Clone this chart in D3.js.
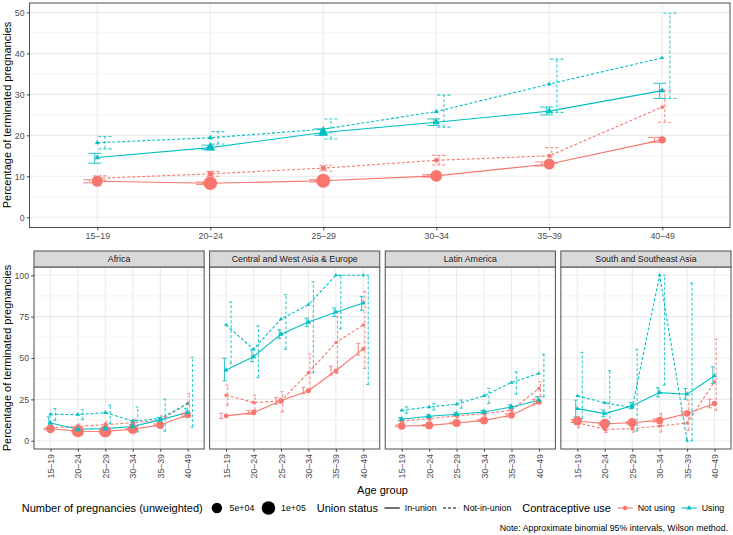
<!DOCTYPE html>
<html>
<head>
<meta charset="utf-8">
<script src="https://cdn.jsdelivr.net/npm/d3@7"></script>
<style>
  body { margin: 0; background: #fff; }
  text { font-family: "Liberation Sans", Arial, Helvetica, sans-serif; }
</style>
</head>
<body>
<svg id="chart" width="733" height="535"></svg>
<script>
// ---- data (panel 0 = all regions, then one row per region) ----
var ageGroups = ["15–19", "20–24", "25–29", "30–34", "35–39", "40–49"];
var regions = ["Africa", "Central and West Asia & Europe", "Latin America", "South and Southeast Asia"];
var useLevels = ["Not using", "Using"];
var unionLevels = ["In-union", "Not-in-union"];
var sizeBreaks = [50000, 100000];
var sizeLabels = ["5e+04", "1e+05"];

// Not using, in-union
var pctNotIn = [
  [8.8, 8.3, 8.9, 10.1, 13.0, 18.9],
  [7.2, 5.7, 5.6, 7.0, 9.5, 15.5],
  [15.0, 17.0, 24.1, 30.2, 42.3, 55.5],
  [8.9, 9.3, 10.7, 12.3, 15.4, 23.5],
  [11.9, 10.3, 10.9, 12.3, 16.4, 22.5]];
var loNotIn = [
  [8.4, 8.0, 8.6, 9.8, 12.5, 18.3],
  [6.8, 5.4, 5.3, 6.6, 8.9, 14.4],
  [13.4, 15.9, 22.1, 28.5, 39.7, 51.8],
  [8.4, 8.9, 10.2, 11.7, 14.5, 21.8],
  [11.0, 9.6, 10.2, 11.4, 15.0, 19.9]];
var hiNotIn = [
  [9.2, 8.6, 9.2, 10.4, 13.5, 19.5],
  [7.6, 6.0, 5.9, 7.4, 10.1, 16.6],
  [16.6, 18.2, 26.1, 32.2, 45.0, 58.9],
  [9.4, 9.7, 11.2, 12.9, 16.3, 25.2],
  [12.8, 11.0, 11.6, 13.2, 17.8, 25.1]];
var nNotIn = [
  [59000, 101000, 109000, 71000, 59000, 19000],
  [32000, 76000, 76000, 45000, 22000, 13000],
  [4000, 7000, 8000, 5000, 3000, 2000],
  [20000, 27000, 25000, 22000, 14000, 9000],
  [36000, 45000, 36000, 19000, 13000, 7000]];

// Not using, not-in-union
var pctNotOut = [
  [9.5, 10.6, 12.0, 13.9, 15.0, 26.9],
  [7.8, 8.7, 9.7, 10.9, 12.3, 22.5],
  [27.5, 23.1, 24.1, 41.1, 59.3, 70.0],
  [11.9, 13.4, 15.0, 16.4, 18.4, 31.6],
  [10.9, 6.9, 7.3, 8.9, 10.7, 35.6]];
var loNotOut = [
  [9.0, 10.0, 11.3, 12.8, 13.2, 23.2],
  [6.5, 7.5, 8.3, 9.2, 10.0, 17.0],
  [21.5, 18.4, 17.4, 31.0, 40.7, 43.7],
  [10.9, 12.4, 13.8, 14.9, 16.2, 26.5],
  [8.0, 5.0, 5.2, 5.3, 6.3, 18.4]];
var hiNotOut = [
  [10.1, 11.2, 12.7, 15.1, 17.0, 31.0],
  [9.4, 10.1, 11.3, 12.9, 15.0, 28.5],
  [33.6, 27.5, 29.6, 52.4, 75.1, 90.3],
  [13.0, 14.5, 16.3, 18.0, 20.8, 35.6],
  [14.5, 9.4, 10.1, 16.4, 24.5, 61.3]];
var nNotOut = [
  [5000, 7000, 6000, 4000, 2000, 1000],
  [1500, 2500, 2500, 1500, 1000, 500],
  [500, 800, 800, 500, 400, 300],
  [1000, 1500, 1500, 1000, 800, 400],
  [800, 1000, 1000, 600, 400, 200]];

// Using, in-union
var pctUseIn = [
  [14.6, 17.0, 20.7, 23.2, 25.9, 30.9],
  [10.7, 6.9, 7.3, 8.6, 12.6, 17.1],
  [42.7, 50.8, 64.4, 71.7, 77.7, 83.2],
  [13.0, 14.8, 16.0, 17.4, 20.4, 24.5],
  [19.4, 16.4, 21.1, 29.1, 28.1, 39.3]];
var loUseIn = [
  [13.2, 16.5, 20.0, 22.4, 25.0, 29.0],
  [8.3, 5.9, 6.4, 7.6, 11.2, 14.8],
  [36.2, 47.8, 61.9, 69.0, 75.1, 78.7],
  [12.0, 13.9, 15.1, 16.4, 19.2, 22.5],
  [14.4, 14.5, 19.3, 26.5, 25.1, 34.6]];
var hiUseIn = [
  [15.6, 17.6, 21.6, 24.0, 26.9, 32.7],
  [14.4, 8.1, 8.4, 9.8, 14.1, 19.6],
  [49.8, 54.9, 67.0, 74.1, 80.2, 87.2],
  [14.0, 15.7, 16.9, 18.4, 21.7, 26.7],
  [24.5, 18.6, 23.1, 32.0, 31.6, 44.7]];
var nUseIn = [
  [4000, 24000, 26000, 10000, 8000, 4000],
  [3000, 6000, 7000, 5000, 4000, 2000],
  [2000, 3000, 3000, 3000, 2000, 1500],
  [3000, 4000, 5000, 5000, 4000, 2000],
  [1500, 2000, 2500, 2000, 1500, 1000]];

// Using, not-in-union
var pctUseOut = [
  [18.2, 19.4, 21.5, 25.8, 32.5, 38.9],
  [16.0, 15.8, 17.0, 11.9, 13.4, 22.5],
  [70.0, 55.3, 73.5, 82.2, 100, 100],
  [18.4, 20.4, 22.1, 27.1, 35.2, 40.7],
  [27.1, 22.9, 20.0, 100, 0, null]];
var loUseOut = [
  [16.7, 17.9, 19.1, 22.0, 25.6, 29.0],
  [12.3, 12.8, 10.3, 5.3, 5.8, 8.3],
  [46.8, 38.3, 55.3, 41.1, 67.6, 34.0],
  [16.4, 18.6, 19.7, 22.5, 28.1, 26.5],
  [13.4, 10.3, 5.9, 33.6, 0, null]];
var hiUseOut = [
  [19.7, 20.9, 24.0, 29.8, 38.6, 49.8],
  [19.4, 18.8, 21.5, 20.4, 25.1, 50.4],
  [83.8, 69.4, 88.3, 96.0, 100, 100],
  [20.5, 22.3, 24.6, 31.6, 41.7, 52.2],
  [53.4, 42.3, 55.3, 100, 95.3, null]];
var nUseOut = [
  [2000, 3000, 3000, 2000, 1000, 600],
  [800, 1000, 1000, 600, 400, 200],
  [300, 400, 400, 300, 200, 200],
  [600, 800, 800, 600, 400, 300],
  [300, 400, 400, 200, 200, 200]];

// ---- setup ----
var svg = d3.select("#chart");
var colors = ["#F8766D", "#00BFC4"];
var dashes = [null, "3,2"];
var sizeScale = d3.scaleSqrt().domain([0, 120000]).range([1.3, 7.3]);

// dodge order: red in, teal in, red not-in, teal not-in
var series = [
  {pct: pctNotIn, lo: loNotIn, hi: hiNotIn, n: nNotIn, use: 0, union: 0, slot: 0},
  {pct: pctNotOut, lo: loNotOut, hi: hiNotOut, n: nNotOut, use: 0, union: 1, slot: 2},
  {pct: pctUseIn, lo: loUseIn, hi: hiUseIn, n: nUseIn, use: 1, union: 0, slot: 1},
  {pct: pctUseOut, lo: loUseOut, hi: hiUseOut, n: nUseOut, use: 1, union: 1, slot: 3}
];

function drawPoint(g, use, cx, cy, r, fill) {
  if (use == 0) {
    g.append("circle").attr("cx", cx).attr("cy", cy).attr("r", r).attr("fill", fill);
  } else {
    g.append("path")
      .attr("d", d3.symbol().type(d3.symbolTriangle).size(Math.PI * r * r * 0.8)())
      .attr("transform", "translate(" + cx + "," + cy + ")")
      .attr("fill", fill);
  }
}

function styleAxis(ag) {
  ag.select(".domain").remove();
  ag.selectAll(".tick line").attr("stroke", "#333").attr("stroke-width", 0.9);
  ag.selectAll(".tick text").attr("fill", "#4D4D4D").style("font-size", "8.8px")
    .style("font-family", '"Liberation Sans", Arial, sans-serif');
}

function drawPanel(p, x0, x1, y, yMajor, yMinor, step, capW, rotate, showY) {
  var x = d3.scalePoint().domain(ageGroups).range([x0, x1]).padding(0.6);
  var yb = y.range()[0], yt = y.range()[1];
  var g = svg.append("g");

  g.append("rect").attr("x", x0).attr("y", yt).attr("width", x1 - x0).attr("height", yb - yt).attr("fill", "#fff");
  g.selectAll(".minor").data(yMinor).enter().append("line")
    .attr("x1", x0).attr("x2", x1).attr("y1", y).attr("y2", y)
    .attr("stroke", "#EBEBEB").attr("stroke-width", 0.6);
  g.selectAll(".majory").data(yMajor).enter().append("line")
    .attr("x1", x0).attr("x2", x1).attr("y1", y).attr("y2", y)
    .attr("stroke", "#EBEBEB").attr("stroke-width", 1.1);
  g.selectAll(".majorx").data(ageGroups).enter().append("line")
    .attr("x1", x).attr("x2", x).attr("y1", yt).attr("y2", yb)
    .attr("stroke", "#EBEBEB").attr("stroke-width", 1.1);

  var rows = series.map(function(s) {
    return ageGroups.map(function(a, i) {
      return {a: a, v: s.pct[p][i], lo: s.lo[p][i], hi: s.hi[p][i], n: s.n[p][i]};
    });
  });

  var line = d3.line()
    .defined(function(d) { return d.v != null; })
    .x(function(d) { return x(d.a); })
    .y(function(d) { return y(d.v); });

  series.forEach(function(s, k) {
    g.append("path").datum(rows[k]).attr("d", line)
      .attr("fill", "none").attr("stroke", colors[s.use]).attr("stroke-width", 1.1)
      .attr("stroke-dasharray", dashes[s.union]);
  });

  series.forEach(function(s, k) {
    var off = (s.slot - 1.5) * step;
    rows[k].forEach(function(d) {
      if (d.lo == null) return;
      var cx = x(d.a) + off;
      var eb = g.append("g").attr("stroke", colors[s.use]).attr("stroke-width", 1.1)
        .attr("stroke-dasharray", dashes[s.union]).attr("opacity", 0.8);
      eb.append("line").attr("x1", cx).attr("x2", cx).attr("y1", y(d.lo)).attr("y2", y(d.hi));
      eb.append("line").attr("x1", cx - capW / 2).attr("x2", cx + capW / 2).attr("y1", y(d.lo)).attr("y2", y(d.lo));
      eb.append("line").attr("x1", cx - capW / 2).attr("x2", cx + capW / 2).attr("y1", y(d.hi)).attr("y2", y(d.hi));
    });
  });

  series.forEach(function(s, k) {
    rows[k].forEach(function(d) {
      if (d.v == null) return;
      drawPoint(g, s.use, x(d.a), y(d.v), sizeScale(d.n), colors[s.use]);
    });
  });

  g.append("rect").attr("x", x0).attr("y", yt).attr("width", x1 - x0).attr("height", yb - yt)
    .attr("fill", "none").attr("stroke", "#4d4d4d").attr("stroke-width", 1);

  if (showY) {
    var ay = svg.append("g").attr("transform", "translate(" + x0 + ",0)")
      .call(d3.axisLeft(y).tickValues(yMajor).tickSize(2.75).tickPadding(2.2).tickFormat(d3.format("d")));
    styleAxis(ay);
  }

  var ax = svg.append("g").attr("transform", "translate(0," + yb + ")")
    .call(d3.axisBottom(x).tickSize(2.75).tickPadding(2.2));
  styleAxis(ax);
  if (rotate) {
    ax.selectAll(".tick text")
      .attr("transform", "rotate(-90)").attr("text-anchor", "end")
      .attr("x", -5).attr("y", 0).attr("dy", "0.35em");
  }
  return x;
}

// ---- top panel ----
var yTop = d3.scaleLinear().domain([-2.49, 52.29]).range([227.5, 3]);
drawPanel(0, 29.5, 730, yTop, [0, 10, 20, 30, 40, 50], [5, 15, 25, 35, 45], 5.1, 13, false, true);

svg.append("text").attr("transform", "translate(11.3,115) rotate(-90)")
  .attr("text-anchor", "middle").style("font-size", "11px").text("Percentage of terminated pregnancies");

// ---- facet panels ----
var botTop = 267, botBottom = 449, stripTop = 251;
var botLeft = 34, botRight = 731, gap = 5.5;
var pw = (botRight - botLeft - 3 * gap) / 4;
var yBot = d3.scaleLinear().domain([-5, 105]).range([botBottom, botTop]);

regions.forEach(function(r, i) {
  var x0 = botLeft + i * (pw + gap);
  drawPanel(i + 1, x0, x0 + pw, yBot, [0, 25, 50, 75, 100], [12.5, 37.5, 62.5, 87.5], 3.3, 4, true, i == 0);
  svg.append("rect").attr("x", x0).attr("y", stripTop).attr("width", pw).attr("height", botTop - stripTop)
    .attr("fill", "#D9D9D9").attr("stroke", "#4d4d4d").attr("stroke-width", 1);
  svg.append("text").attr("x", x0 + pw / 2).attr("y", (stripTop + botTop) / 2 + 3.1)
    .attr("text-anchor", "middle").attr("fill", "#1A1A1A").style("font-size", "8.8px").text(r);
});

svg.append("text").attr("transform", "translate(11.3," + (botTop + botBottom) / 2 + ") rotate(-90)")
  .attr("text-anchor", "middle").style("font-size", "11px").text("Percentage of terminated pregnancies");

svg.append("text").attr("x", (botLeft + botRight) / 2).attr("y", 494)
  .attr("text-anchor", "middle").style("font-size", "11px").text("Age group");

// ---- legend ----
var legY = 508;
var leg = svg.append("g");
var cursor = 0;

function legText(str, size) {
  var t = leg.append("text").attr("x", cursor).attr("y", legY + size * 0.36)
    .style("font-size", size + "px").text(str);
  cursor += t.node().getComputedTextLength();
}
var keyW = 17.3;

legText("Number of pregnancies (unweighted)", 11);
sizeBreaks.forEach(function(b, i) {
  cursor += 5.5;
  leg.append("circle").attr("cx", cursor + keyW / 2).attr("cy", legY).attr("r", sizeScale(b)).attr("fill", "#000");
  cursor += keyW + 4;
  legText(sizeLabels[i], 8.8);
});

cursor += 11;
legText("Union status", 11);
unionLevels.forEach(function(u, i) {
  cursor += 5.5;
  leg.append("line").attr("x1", cursor + 1).attr("x2", cursor + keyW - 1).attr("y1", legY).attr("y2", legY)
    .attr("stroke", "#000").attr("stroke-width", 1.1).attr("stroke-dasharray", dashes[i]);
  cursor += keyW + 4;
  legText(u, 8.8);
});

cursor += 11;
legText("Contraceptive use", 11);
useLevels.forEach(function(u, i) {
  cursor += 5.5;
  leg.append("line").attr("x1", cursor + 1).attr("x2", cursor + keyW - 1).attr("y1", legY).attr("y2", legY)
    .attr("stroke", colors[i]).attr("stroke-width", 1.1);
  drawPoint(leg, i, cursor + keyW / 2, legY, 2.2, colors[i]);
  cursor += keyW + 4;
  legText(u, 8.8);
});

leg.attr("transform", "translate(" + (373 - cursor / 2) + ",0)");

svg.append("text").attr("x", 728).attr("y", 531).attr("text-anchor", "end")
  .style("font-size", "8.8px").text("Note: Approximate binomial 95% intervals, Wilson method.");
</script>
</body>
</html>
